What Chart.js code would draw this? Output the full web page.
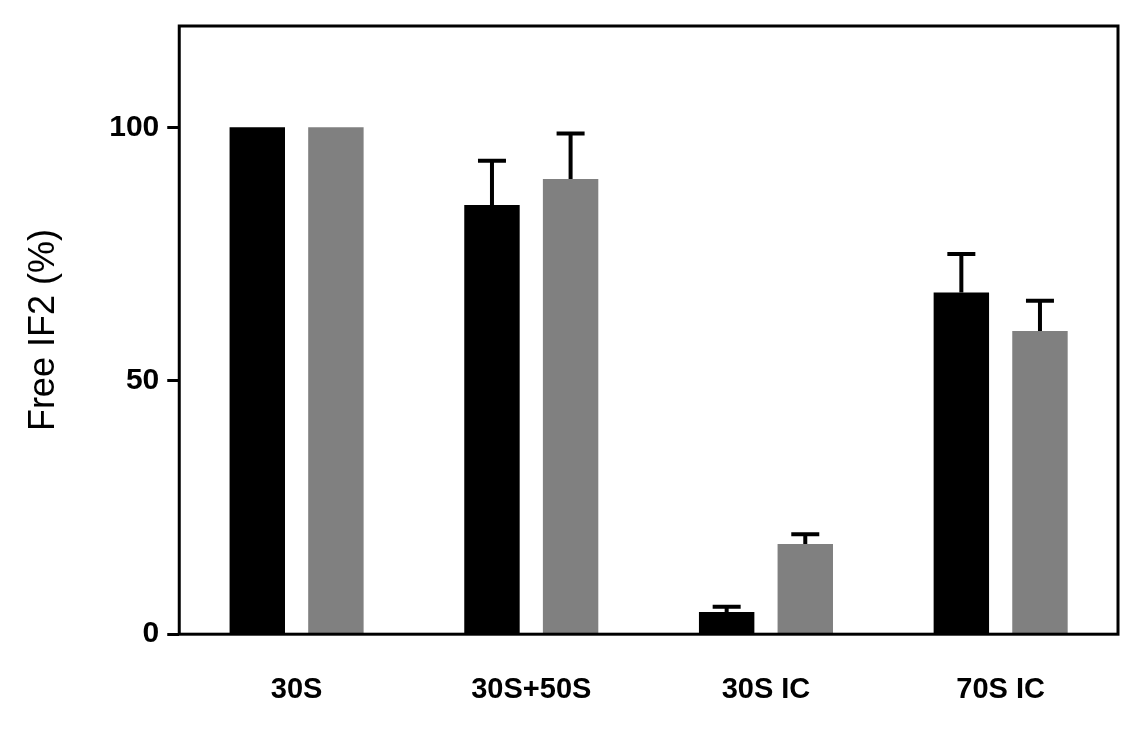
<!DOCTYPE html>
<html><head><meta charset="utf-8">
<script src="https://cdn.jsdelivr.net/npm/chart.js@4"></script>
<style>html,body{margin:0;background:#fff}#wrap{width:1131px;height:739px}</style>
</head><body><div id="wrap"><canvas id="c"></canvas></div>
<script>
const categories = ['30S', '30S+50S', '30S IC', '70S IC'];
const blackVals = [100, 84.7, 4.4, 67.4];
const blackErr  = [0, 8.7, 1.0, 7.6];
const grayVals  = [100, 89.8, 17.8, 59.8];
const grayErr   = [0, 9.0, 1.9, 6.0];
const yTicks = [0, 50, 100];

const errorBars = {
  id: 'errorBars',
  afterDatasetsDraw(chart) {
    const ctx = chart.ctx, y = chart.scales.y;
    [blackErr, grayErr].forEach((errs, di) => {
      const meta = chart.getDatasetMeta(di);
      const vals = chart.data.datasets[di].data;
      meta.data.forEach((bar, i) => {
        if (!errs[i]) return;
        const y0 = y.getPixelForValue(vals[i]);
        const y1 = y.getPixelForValue(vals[i] + errs[i]);
        ctx.save();
        ctx.strokeStyle = '#000'; ctx.lineWidth = 4;
        ctx.beginPath();
        ctx.moveTo(bar.x, y0); ctx.lineTo(bar.x, y1);
        ctx.moveTo(bar.x - 14, y1); ctx.lineTo(bar.x + 14, y1);
        ctx.stroke();
        ctx.restore();
      });
    });
  }
};

const frame = {
  id: 'frame',
  afterDraw(chart) {
    const a = chart.chartArea, ctx = chart.ctx;
    ctx.save(); ctx.strokeStyle = '#000'; ctx.lineWidth = 3;
    ctx.strokeRect(a.left, a.top, a.right - a.left, a.bottom - a.top);
    ctx.restore();
  }
};

new Chart(document.getElementById('c'), {
  type: 'bar',
  data: {
    labels: categories,
    datasets: [
      { data: blackVals, backgroundColor: '#000' },
      { data: grayVals, backgroundColor: '#808080' },
    ],
  },
  options: {
    responsive: true, maintainAspectRatio: false, animation: false,
    layout: { padding: { top: 5, right: 13, bottom: 2, left: 18 } },
    categoryPercentage: 0.67, barPercentage: 0.705,
    plugins: { legend: { display: false }, tooltip: { enabled: false } },
    scales: {
      x: {
        grid: { display: false }, border: { display: false },
        ticks: { color: '#000', font: { family: 'Arial, Liberation Sans', size: 29, weight: 'bold' }, padding: 30 },
      },
      y: {
        min: 0, max: 120,
        afterBuildTicks: s => { s.ticks = yTicks.map(v => ({ value: v })); },
        grid: { drawOnChartArea: false, tickLength: 12, tickWidth: 3, color: '#000' },
        border: { display: false },
        ticks: { color: '#000', font: { family: 'Arial, Liberation Sans', size: 30, weight: 'bold' }, padding: 8 },
        title: { display: true, text: 'Free IF2 (%)', color: '#000',
          font: { family: 'Arial, Liberation Sans', size: 36 }, padding: { bottom: 36 } },
      },
    },
  },
  plugins: [errorBars, frame],
});
</script></body></html>
